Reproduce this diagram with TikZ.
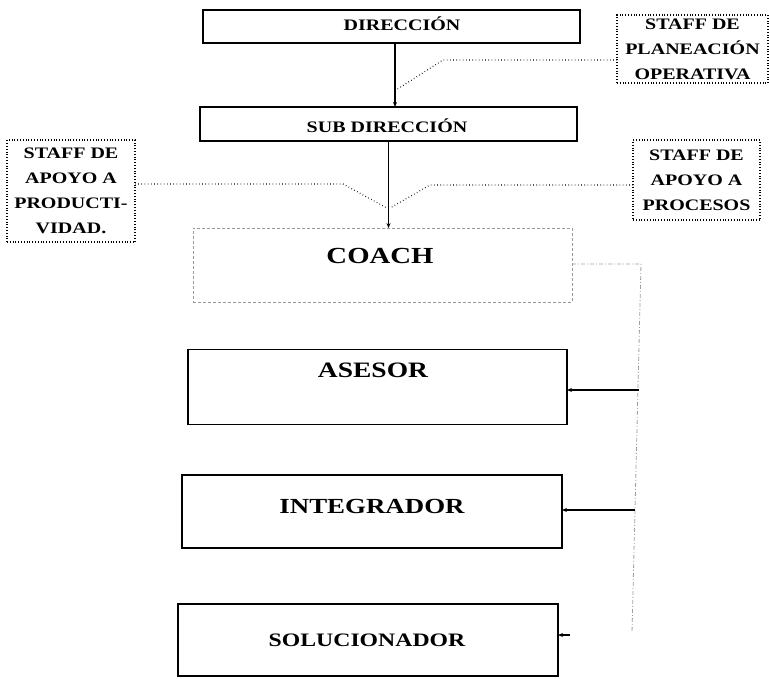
\documentclass[tikz,border=0pt]{standalone}
\usepackage{fontspec}
\setmainfont{Liberation Serif}[FakeStretch=1.25]
\usetikzlibrary{arrows.meta}
\begin{document}
\begin{tikzpicture}[x=1pt,y=-1pt,
  mainbox/.style={draw=black, line width=1.1pt, inner sep=0pt, outer sep=0pt},
  coachbox/.style={draw=gray!80, line width=0.8pt, dash pattern=on 3pt off 2pt, inner sep=0pt, outer sep=0pt},
  staffbox/.style={draw=black, line width=1.2pt, dash pattern=on 0.6pt off 2.2pt, inner sep=0pt, outer sep=0pt, align=center,
     font=\fontsize{16}{25}\selectfont\bfseries},
  lbl/.style={anchor=base, inner sep=0pt, font=\bfseries},
  arr/.style={draw=black, line width=1.1pt, -{Stealth[length=5pt,width=4pt]}},
  dotline/.style={draw=black, line width=1.2pt, dash pattern=on 0.6pt off 2.6pt},
  fbline/.style={draw=gray!75, line width=0.8pt, dash pattern=on 4pt off 2pt on 1pt off 2pt}]
\useasboundingbox (0,0) rectangle (769,678);
% main boxes
\node[mainbox, minimum width=377pt, minimum height=33pt] (dir) at (391.5,26.5) {};
\node[mainbox, minimum width=377pt, minimum height=34pt] (sub) at (388.5,124) {};
\node[coachbox, minimum width=379pt, minimum height=74pt] (coach) at (382.5,265) {};
\node[mainbox, minimum width=379pt, minimum height=75pt] (ases) at (377.5,387) {};
\node[mainbox, minimum width=380pt, minimum height=73pt] (integ) at (372,511.5) {};
\node[mainbox, minimum width=380pt, minimum height=72pt] (sol) at (368,640) {};
% labels
\node[lbl, font=\fontsize{16}{18}\selectfont\bfseries] (tdir) at (402,30) {DIRECCIÓN};
\node[lbl, font=\fontsize{16}{18}\selectfont\bfseries] (tsub) at (387,132) {SUB DIRECCIÓN};
\node[lbl, font=\fontsize{23}{26}\selectfont\bfseries] (tcoach) at (380,263) {COACH};
\node[lbl, font=\fontsize{22}{25}\selectfont\bfseries] (tases) at (373,377) {ASESOR};
\node[lbl, font=\fontsize{21.5}{24}\selectfont\bfseries] (tinteg) at (372,513) {INTEGRADOR};
\node[lbl, font=\fontsize{19}{22}\selectfont\bfseries] (tsol) at (367,646) {SOLUCIONADOR};
% staff boxes
\node[staffbox, minimum width=151pt, minimum height=68pt] (plan) at (692.5,49) {STAFF DE\\PLANEACIÓN\\OPERATIVA};
\node[staffbox, minimum width=128pt, minimum height=102pt] (prod) at (71,191) {STAFF DE\\APOYO A\\PRODUCTI-\\VIDAD.};
\node[staffbox, minimum width=127pt, minimum height=80pt] (proc) at (696.5,180) {STAFF DE\\APOYO A\\PROCESOS};
% vertical chain
\coordinate (a1) at (395,0);
\draw[arr] (dir.south -| a1) -- (sub.north -| a1);
\draw[arr] (sub.south) -- (coach.north -| sub.south);
% staff links
\coordinate (p1) at (443,60);
\coordinate (p2) at (396,90);
\draw[dotline] (plan.west |- p1) -- (p1) -- (p2);
\coordinate (q1) at (343,184);
\coordinate (q2) at (387,208);
\draw[dotline] (prod.east |- q1) -- (q1) -- (q2);
\coordinate (r1) at (430,185);
\coordinate (r2) at (390,208);
\draw[dotline] (proc.west |- r1) -- (r1) -- (r2);
% feedback line
\coordinate (f1) at (641,264);
\coordinate (f2) at (632,633);
\draw[fbline] (coach.east |- f1) -- (f1) -- (f2);
\coordinate (f3) at (639,390);
\draw[arr] (f3) -- (ases.east |- f3);
\coordinate (f4) at (635,510);
\draw[arr] (f4) -- (integ.east |- f4);
\coordinate (f5) at (570,635);
\draw[arr] (f5) -- (sol.east |- f5);
\end{tikzpicture}
\end{document}
